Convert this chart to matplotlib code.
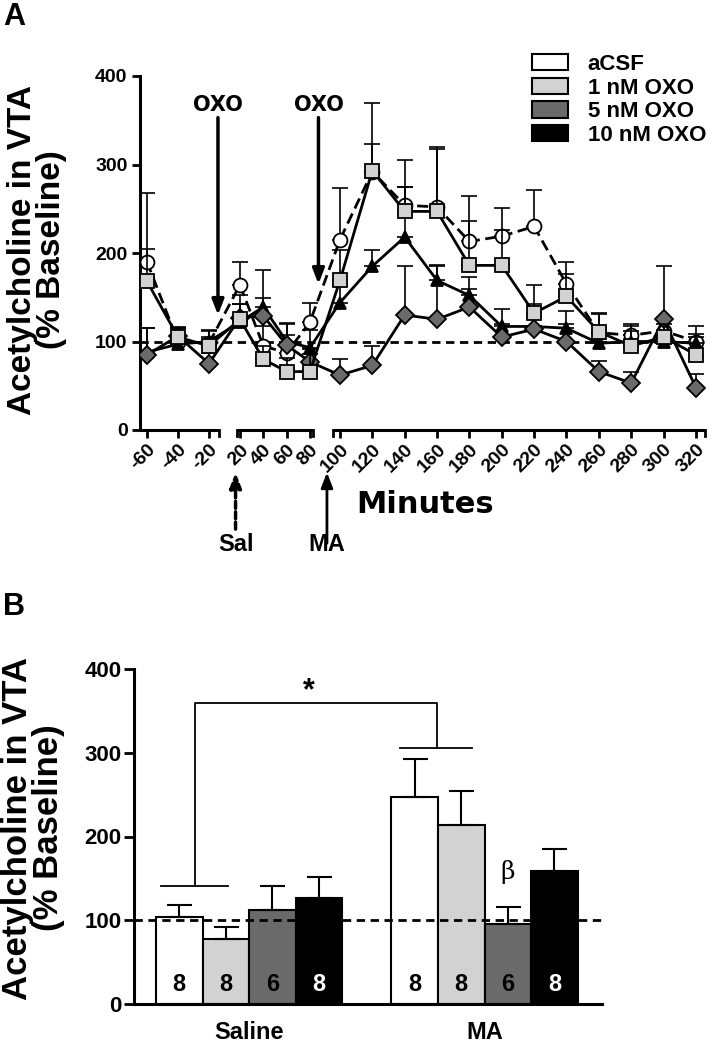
import numpy as np
import matplotlib.pyplot as plt
from matplotlib.patches import Patch

plt.rcParams['font.family'] = 'Liberation Sans'
plt.rcParams['font.weight'] = 'bold'

# ---- panel A data: time course (% baseline), upper SEM
minutes = [-60, -40, -20, 20, 40, 60, 80, 100, 120, 140, 160, 180, 200, 220, 240, 260, 280, 300, 320]

acsf = [190, 100, 98, 164, 95, 87, 122, 215, 292, 254, 252, 213, 219, 230, 165, 110, 107, 112, 100]
acsf_err = [78, 15, 15, 26, 22, 20, 22, 58, 78, 51, 68, 51, 32, 41, 25, 22, 10, 15, 18]
oxo1 = [168, 105, 95, 125, 80, 66, 66, 169, 293, 247, 247, 186, 186, 132, 151, 111, 95, 105, 85]
oxo1_err = [37, 10, 10, 28, 15, 15, 20, 34, 30, 28, 70, 50, 40, 32, 25, 20, 25, 15, 20]
oxo5 = [85, 106, 75, 127, 129, 96, 77, 62, 73, 130, 125, 139, 105, 114, 100, 66, 53, 125, 48]
oxo5_err = [30, 10, 12, 15, 20, 25, 15, 18, 22, 55, 60, 20, 15, 15, 20, 12, 12, 60, 15]
oxo10 = [88, 97, 100, 122, 139, 100, 93, 144, 185, 218, 169, 152, 117, 117, 115, 98, 100, 100, 98]
oxo10_err = [27, 10, 12, 20, 42, 20, 20, 20, 18, 57, 17, 21, 20, 25, 20, 12, 12, 25, 10]

legend_labels = ['aCSF', '1 nM OXO', '5 nM OXO', '10 nM OXO']
fills = ['white', '#d2d2d2', '#6a6a6a', 'black']

# ---- panel B data: mean response after injection
groups = ['Saline', 'MA']
saline_mean = [104, 78, 112, 126]
saline_err = [14, 14, 29, 26]
ma_mean = [247, 214, 96, 159]
ma_err = [45, 40, 20, 26]
saline_n = ['8', '8', '6', '8']
ma_n = ['8', '8', '6', '8']

fig = plt.figure(figsize=(7.21, 10.5), dpi=100)

# broken time axis: piecewise-linear scale (minutes -> layout units)
knot_min = [-70, -60, -20, 0, 20, 80, 90, 100, 320, 330]
knot_pos = [131.5, 147, 209, 218, 240, 310, 327, 340, 696, 712.2]


def fwd(x):
    return np.interp(x, knot_min, knot_pos)


def inv(p):
    return np.interp(p, knot_pos, knot_min)


ax = fig.add_axes([140 / 721, 1 - 430 / 1050, 565 / 721, 354 / 1050])
ax.set_xscale('function', functions=(fwd, inv))
ax.set_xlim(-64.5, 325.6)
ax.set_ylim(0, 400)

series = [
    (acsf, acsf_err, 'o', fills[0], (0, (4, 2)), 10),
    (oxo10, oxo10_err, '^', fills[3], '-', 8.5),
    (oxo5, oxo5_err, 'D', fills[2], '-', 9),
    (oxo1, oxo1_err, 's', fills[1], '-', 10),
]
for i, (y, e, m, fc, ls, ms) in enumerate(series):
    ax.errorbar(minutes, y, yerr=[np.zeros(len(e)), e], fmt='none', ecolor='k',
                elinewidth=1.2, capsize=6, capthick=1.2, zorder=2 + i)
    ax.plot(minutes, y, ls=ls, color='k', lw=2, marker=m, ms=ms, mfc=fc,
            mec='k', mew=1.3, zorder=3 + i)

ax.axhline(100, color='k', ls=(0, (3, 2)), lw=2, zorder=1)

for s in ['top', 'right', 'bottom']:
    ax.spines[s].set_visible(False)
ax.spines['left'].set_linewidth(2.2)
ax.set_yticks([0, 100, 200, 300, 400])
ax.tick_params(axis='y', length=6, width=2, labelsize=14, pad=3)
ax.set_xticks(minutes)
ax.set_xticklabels([str(m) for m in minutes], rotation=45, ha='right',
                   va='top', rotation_mode='anchor')
ax.tick_params(axis='x', length=6, width=2, labelsize=14, pad=2)
for lab in ax.get_xticklabels() + ax.get_yticklabels():
    lab.set_fontweight('bold')

# segmented x spine
xtr = ax.get_xaxis_transform()
for a, b in [(-64.5, 1.1), (17.3, 82), (94.6, 325.6)]:
    ax.plot([a, b], [0, 0], color='k', lw=2.2, transform=xtr, clip_on=False,
            solid_capstyle='butt', zorder=10)
    for e in (a, b):
        if e > -64:
            ax.plot([e, e], [0, -0.018], color='k', lw=2, transform=xtr,
                    clip_on=False, zorder=10)

# OXO infusion arrows
for xm, y0, y1 in [(0, 353, 130), (85, 353, 165)]:
    ax.annotate('', xy=(xm, y1), xytext=(xm, y0),
                arrowprops=dict(arrowstyle='-|>,head_length=0.9,head_width=0.35',
                                lw=2.5, color='k', shrinkA=0, shrinkB=0))
    ax.text(xm, 356, 'OXO', ha='center', va='bottom', fontsize=15,
            family='DejaVu Sans', fontweight='bold')

# injection arrows below axis
ax.annotate('', xy=(16, -0.12), xytext=(16, -0.28), xycoords=xtr, textcoords=xtr,
            arrowprops=dict(arrowstyle='-|>,head_length=0.9,head_width=0.35',
                            lw=2.5, ls=(0, (2, 1)), color='k', shrinkA=0, shrinkB=0),
            annotation_clip=False)
ax.text(16, -0.29, 'Sal', transform=xtr, ha='center', va='top', fontsize=17)
ax.annotate('', xy=(90, -0.12), xytext=(90, -0.32), xycoords=xtr, textcoords=xtr,
            arrowprops=dict(arrowstyle='-|>,head_length=0.9,head_width=0.35',
                            lw=2, color='k', shrinkA=0, shrinkB=0),
            annotation_clip=False)
ax.text(90, -0.29, 'MA', transform=xtr, ha='center', va='top', fontsize=17)

ax.text(inv(425), -0.21, 'Minutes', transform=xtr, ha='center', va='center',
        fontsize=22, family='DejaVu Sans', fontweight='bold')

handles = [Patch(facecolor=c, edgecolor='k', lw=1.5) for c in fills]
fig.legend(handles, legend_labels, loc='upper left',
           bbox_to_anchor=(532 / 721, 1 - 54 / 1050), frameon=False,
           handlelength=1.6, handleheight=0.75, handletextpad=0.9,
           labelspacing=0.12, borderpad=0, borderaxespad=0,
           prop={'weight': 'bold', 'size': 16})

fig.text(37 / 721, 1 - 250 / 1050, 'Acetylcholine in VTA\n(% Baseline)',
         rotation=90, ha='center', va='center', fontsize=24, linespacing=0.95)
fig.text(0.004, 0.998, 'A', ha='left', va='top', fontsize=22)

# ---- panel B
ax2 = fig.add_axes([134 / 721, 1 - 1004 / 1050, 468 / 721, 335 / 1050])
x_sal = np.arange(4)
x_ma = 5.05 + np.arange(4)
ax2.bar(x_sal, saline_mean, width=1.0, color=fills, edgecolor='k', lw=1.5,
        yerr=[np.zeros(4), saline_err], capsize=9,
        error_kw=dict(elinewidth=1.5, capthick=1.5), zorder=2)
ax2.bar(x_ma, ma_mean, width=1.0, color=fills, edgecolor='k', lw=1.5,
        yerr=[np.zeros(4), ma_err], capsize=9,
        error_kw=dict(elinewidth=1.5, capthick=1.5), zorder=2)
ax2.axhline(100, color='k', ls=(0, (3, 2)), lw=2, zorder=3)

for xs, ns in [(x_sal, saline_n), (x_ma, ma_n)]:
    for xx, n, c in zip(xs, ns, fills):
        ax2.text(xx, 23, n, ha='center', va='center', fontsize=17,
                 color='white' if c == 'black' else 'black', zorder=4)

ax2.set_xlim(-0.97, 9.07)
ax2.set_ylim(0, 400)
for s in ['top', 'right']:
    ax2.spines[s].set_visible(False)
ax2.spines['left'].set_linewidth(2.2)
ax2.spines['bottom'].set_linewidth(2.2)
ax2.set_yticks([0, 100, 200, 300, 400])
ax2.tick_params(axis='y', length=7, width=2, labelsize=16, pad=2)
ax2.set_xticks([x_sal.mean(), x_ma.mean()])
ax2.set_xticklabels(groups)
ax2.tick_params(axis='x', length=0, labelsize=17, pad=12)
for lab in ax2.get_xticklabels() + ax2.get_yticklabels():
    lab.set_fontweight('bold')

# significance bracket
bk = dict(color='k', lw=1.3, clip_on=False, zorder=5)
ax2.plot([-0.39, 1.05], [141, 141], **bk)
ax2.plot([0.34, 0.34, 5.53, 5.53], [141, 360, 360, 306], **bk)
ax2.plot([4.73, 6.28], [306, 306], **bk)
ax2.text(2.77, 374, '*', ha='center', va='center', fontsize=22)
ax2.text(x_ma[2], 158, 'β', ha='center', va='center', fontsize=18,
         family='DejaVu Serif', fontweight='normal')

fig.text(33 / 721, 1 - 828 / 1050, 'Acetylcholine in VTA\n(% Baseline)',
         rotation=90, ha='center', va='center', fontsize=25, linespacing=0.95)
fig.text(0.004, 1 - 592 / 1050, 'B', ha='left', va='top', fontsize=22)

fig.savefig('out.png', dpi=100)
